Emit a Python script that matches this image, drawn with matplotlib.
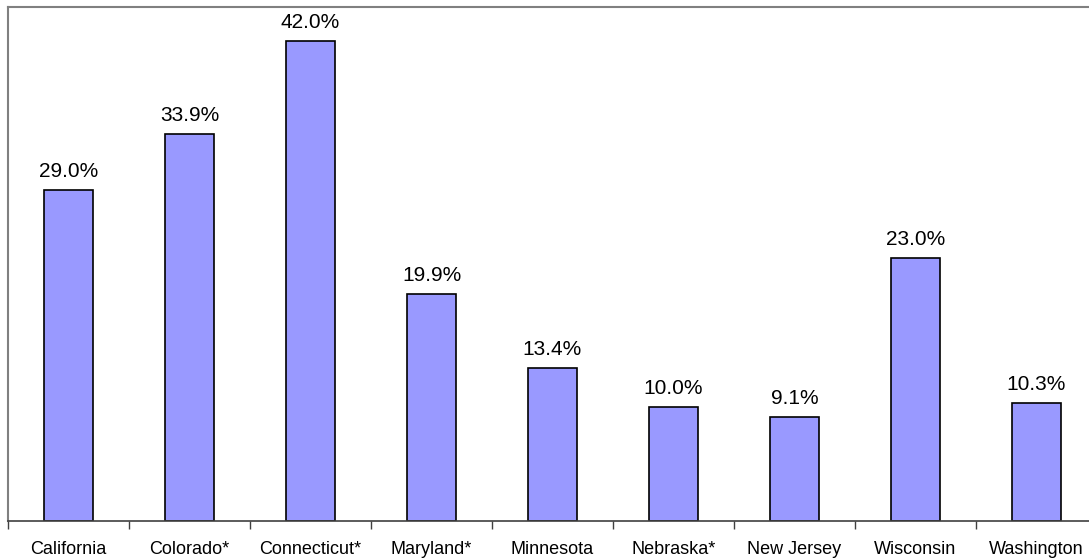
import numpy as np
import matplotlib.pyplot as plt

plt.rcParams['font.family'] = ['Liberation Sans', 'DejaVu Sans']

# Data
states = ["California", "Colorado*", "Connecticut*", "Maryland*", "Minnesota",
          "Nebraska*", "New Jersey", "Wisconsin", "Washington"]
values = [29.0, 33.9, 42.0, 19.9, 13.4, 10.0, 9.1, 23.0, 10.3]

W, H = 1089, 559
fig = plt.figure(figsize=(W / 100, H / 100), dpi=100)
ax = fig.add_axes([8 / W, 38 / H, 1089 / W, 514 / H])

x = np.arange(len(states))
bars = ax.bar(x, values, width=0.41, color="#9999FF", edgecolor="black", linewidth=1.2)

for xi, v in zip(x, values):
    ax.text(xi, v + 0.8, f"{v:.1f}%", ha="center", va="bottom", fontsize=15)

ax.set_xlim(-0.5, len(states) - 0.5)
ax.set_ylim(0, 45)

# boundary ticks (major) and label ticks (minor)
ax.set_xticks(np.arange(len(states) + 1) - 0.5)
ax.set_xticklabels([])
ax.set_xticks(x, minor=True)
ax.set_xticklabels(states, minor=True, fontsize=13)
ax.tick_params(axis="x", which="major", length=5.5, width=1, color="#404040", direction="out")
ax.tick_params(axis="x", which="minor", length=0, pad=14.5)
ax.set_yticks([])

ax.spines["left"].set_color("#808080")
ax.spines["left"].set_linewidth(1.5)
ax.spines["top"].set_color("#808080")
ax.spines["top"].set_linewidth(1.5)
ax.spines["right"].set_visible(False)
ax.spines["bottom"].set_color("#404040")
ax.spines["bottom"].set_linewidth(1.2)

fig.savefig("out.png", dpi=100)
